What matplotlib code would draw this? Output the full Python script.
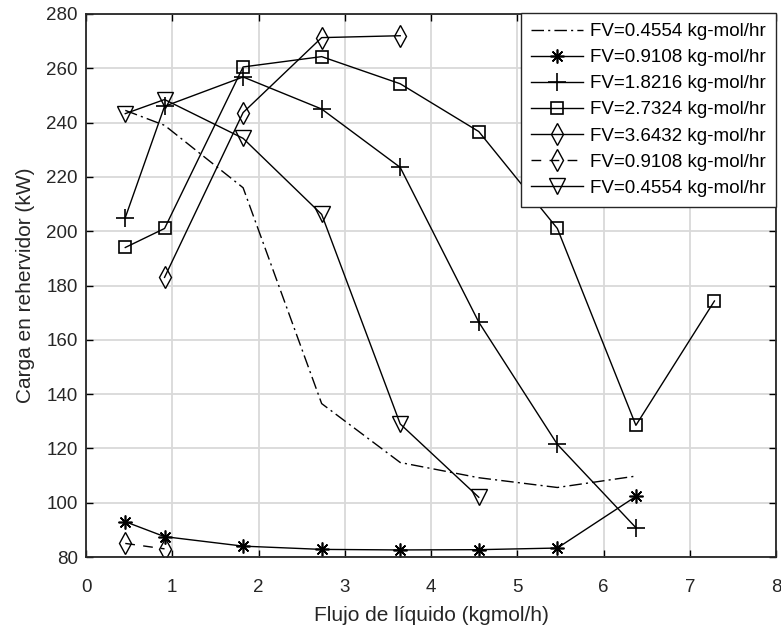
import matplotlib
matplotlib.use("Agg")
import matplotlib.pyplot as plt

plt.rcParams['font.family'] = ['Liberation Sans', 'DejaVu Sans']

# flujo de liquido (kgmol/h) - multiplos de 0.4554
x_all = [0.4554, 0.9108, 1.8216, 2.7324, 3.6432, 4.554, 5.4648, 6.3756, 7.2864]

fv04554_dd = [244.5, 239, 216, 136.5, 114.8, 109.2, 105.6, 109.8]
fv09108 = [93, 87.5, 84, 82.8, 82.6, 82.7, 83.3, 102.3]
fv18216 = [205, 246, 256.8, 245, 223.5, 166.5, 121.5, 90.8]
fv27324 = [194, 201, 260.5, 264.3, 254.3, 236.7, 201, 128.5, 174.3]
fv36432 = [183, 243.7, 271.3, 272]
fv09108_d = [85, 83]
fv04554 = [243.3, 248.5, 234.2, 206.2, 129, 102]

labels = ["FV=0.4554 kg-mol/hr", "FV=0.9108 kg-mol/hr", "FV=1.8216 kg-mol/hr",
          "FV=2.7324 kg-mol/hr", "FV=3.6432 kg-mol/hr", "FV=0.9108 kg-mol/hr",
          "FV=0.4554 kg-mol/hr"]

fig = plt.figure(figsize=(7.81, 6.28), dpi=100)
ax = fig.add_axes([86/781, 1-557/628, 690/781, 543/628])

lw = 1.0
ax.plot(x_all[:8], fv04554_dd, color='k', lw=lw, ls=(0, (9, 3, 1.5, 3)), label=labels[0])
ax.plot(x_all[:8], fv09108, color='k', lw=lw, marker=(8, 2, 0), ms=10, mew=1.2, label=labels[1])
ax.plot(x_all[:8], fv18216, color='k', lw=lw, marker='+', ms=13, mew=1.2, label=labels[2])
ax.plot(x_all, fv27324, color='k', lw=lw, marker='s', ms=8, mfc='none', mew=1.2, label=labels[3])
ax.plot(x_all[1:5], fv36432, color='k', lw=lw, marker='d', ms=11, mfc='none', mew=1.0, label=labels[4])
ax.plot(x_all[:2], fv09108_d, color='k', lw=lw, ls=(0, (7, 6)), marker='d', ms=11, mfc='none', mew=1.0, label=labels[5])
ax.plot(x_all[:6], fv04554, color='k', lw=lw, marker='v', ms=11, mfc='none', mew=1.0, label=labels[6])

ax.set_xlim(0, 8)
ax.set_ylim(80, 280)
ax.set_xticks(range(0, 9))
ax.set_yticks(range(80, 281, 20))
ax.grid(True, color='#d9d9d9', lw=1.3)
ax.set_axisbelow(True)
ax.tick_params(direction='in', top=True, right=True, length=5, width=1,
               labelsize=13.5, labelcolor='#262626')
ax.tick_params(axis='x', pad=16)
ax.tick_params(axis='y', pad=6)
for s in ax.spines.values():
    s.set_linewidth(1.3)
    s.set_color('#262626')

ax.set_xlabel("Flujo de líquido (kgmol/h)", fontsize=15, color='#262626', labelpad=7)
ax.set_ylabel("Carga en rehervidor (kW)", fontsize=15, color='#262626', labelpad=8)

leg = ax.legend(loc='upper right', bbox_to_anchor=(1.0, 1.0025), fontsize=13.5,
                frameon=True, fancybox=False, framealpha=1, edgecolor='#262626',
                handlelength=2.8, handletextpad=0.35, labelspacing=0.48,
                borderaxespad=0.0, borderpad=0.55)
leg.get_frame().set_linewidth(1.0)

fig.savefig("out.png", dpi=100)
